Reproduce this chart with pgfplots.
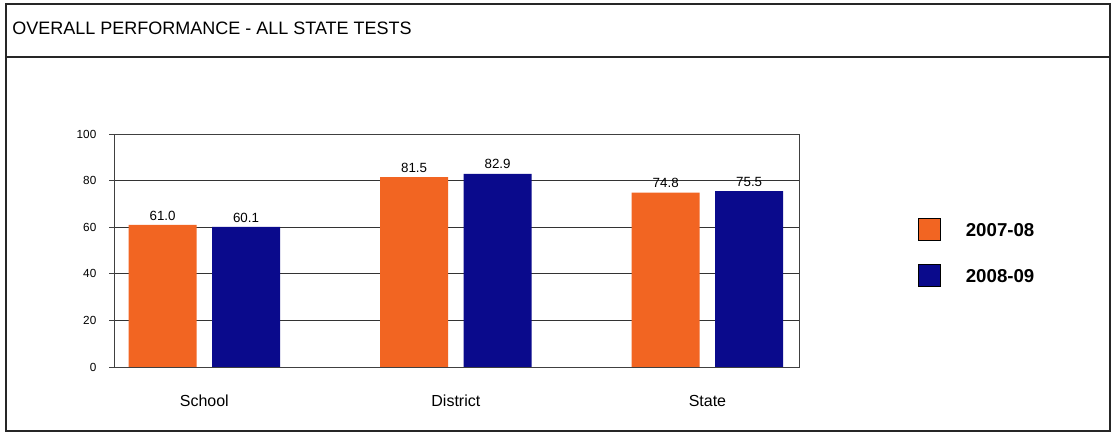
\documentclass[border=0pt]{standalone}
\usepackage{fontspec}
\setmainfont{Liberation Sans}
\usepackage{pgfplots}
\pgfplotsset{compat=1.18}
\definecolor{orng}{RGB}{242,101,34}
\definecolor{navy}{RGB}{10,10,140}
\begin{document}
\begin{tikzpicture}
\path[fill=white, use as bounding box] (0,0) rectangle (837pt,325.5pt);
\draw[line width=1pt, black!85] (4.5pt,2.25pt) rectangle (832.5pt,322.5pt);
\draw[line width=0.8pt, black!85] (4.5pt,282.75pt) -- (832.5pt,282.75pt);
\node[anchor=west, inner sep=0pt, font=\fontsize{13.5}{15}\selectfont] at (9pt,304.5pt) {OVERALL PERFORMANCE - ALL STATE TESTS};
\begin{axis}[
  at={(85.5pt,50.25pt)}, anchor=south west,
  scale only axis, width=513.75pt, height=174.75pt,
  xmin=-0.359, xmax=2.364, ymin=0, ymax=100,
  ybar=11.6pt, bar width=51pt,
  xtick={0,1,2}, xticklabels={School,District,State},
  xtick style={draw=none},
  xticklabel style={font=\fontsize{12}{14}\selectfont, yshift=-14pt},
  ytick={0,20,40,60,80,100},
  ytick pos=left, tick align=outside, major tick length=3.75pt,
  yticklabel style={font=\fontsize{8.8}{10}\selectfont, xshift=-6pt},
  /pgf/number format/assume math mode=true,
  ymajorgrids, grid style={black!80, line width=0.5pt},
  axis line style={black!75, line width=0.6pt},
  tick style={black!75, line width=0.6pt},
  nodes near coords,
  nodes near coords style={font=\fontsize{10}{12}\selectfont, /pgf/number format/.cd, fixed, fixed zerofill, precision=1, assume math mode=true},
  clip=false,
  legend style={draw=none, fill=none, at={(1.1737,0.6395)}, anchor=north west, inner sep=0pt,
    font=\bfseries\fontsize{14}{16}\selectfont, row sep=17.25pt, column sep=16.5pt},
  legend cell align=left,
  legend image code/.code={\draw[#1, draw=black, line width=0.7pt] (0pt,-7.25pt) rectangle (16.5pt,9.25pt);},
]
\addplot[fill=orng, draw=none] coordinates {(0,61.0) (1,81.5) (2,74.8)};
\addplot[fill=navy, draw=none] coordinates {(0,60.1) (1,82.9) (2,75.5)};
\legend{2007-08,2008-09}
\end{axis}
\end{tikzpicture}
\end{document}
